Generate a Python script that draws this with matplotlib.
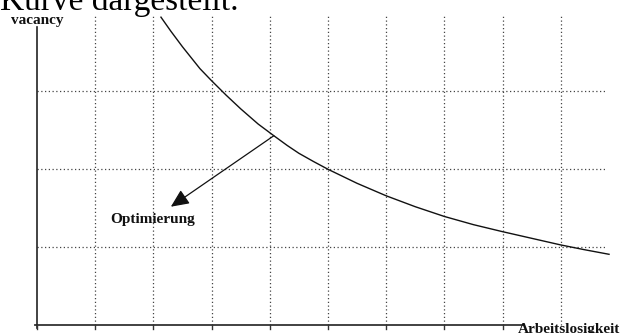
import matplotlib.pyplot as plt

# Curve values (grid units)
curve_x = [2.13, 2.3, 2.5, 2.65, 2.8, 3.0, 3.25, 3.5, 3.8, 4.07, 4.3, 4.5,
           4.75, 5.0, 5.5, 6.0, 6.5, 7.0, 7.5, 8.0, 8.5, 9.0, 9.4, 9.83]
curve_y = [3.95, 3.77, 3.57, 3.43, 3.29, 3.135, 2.95, 2.775, 2.58, 2.43,
           2.305, 2.205, 2.10, 2.0, 1.82, 1.66, 1.52, 1.395, 1.29, 1.20,
           1.115, 1.03, 0.97, 0.91]

# grid positions
grid_x = [1, 2, 3, 4, 5, 6, 7, 8, 9]
grid_y = [1, 2, 3]
tick_x = [0, 1, 2, 3, 4, 5, 6, 7, 8]

# arrow "Optimierung"
arrow_start = (4.07, 2.43)
arrow_end = (2.30, 1.52)

serif = ['Liberation Serif', 'DejaVu Serif']

fig = plt.figure(figsize=(6.23, 3.33), dpi=100)
ax = fig.add_axes([0, 0, 1, 1])
ax.set_xlim(-0.636, 10.07)
ax.set_ylim(-0.099, 4.17)
ax.axis('off')

# dotted grid
for gx in grid_x:
    ax.plot([gx, gx], [0, 3.96], color='#444444', lw=0.9, ls=(0, (1, 2)))
for gy in grid_y:
    ax.plot([0, 9.8], [gy, gy], color='#444444', lw=0.9, ls=(0, (1, 2)))

# axes
ax.plot([-0.03, 8.35], [0, 0], color='#333333', lw=1.3)
ax.plot([0, 0], [-0.04, 3.82], color='#222222', lw=1.2)
for tx in tick_x:
    ax.plot([tx, tx], [0, -0.045], color='#333333', lw=1)

# curve
ax.plot(curve_x, curve_y, color='#111111', lw=1.0)

# arrow
ax.annotate('', xy=arrow_end, xytext=arrow_start,
            arrowprops=dict(arrowstyle='-|>,head_length=0.55,head_width=0.25',
                            color='#111111', lw=0.9,
                            mutation_scale=20, shrinkA=0, shrinkB=0))

ax.text(1.99, 1.35, 'Optimierung', family=serif, fontsize=11,
        weight='bold', ha='center', va='center', color='#111111')
ax.text(-0.44, 3.91, 'vacancy', family=serif, fontsize=11,
        weight='bold', ha='left', va='center', color='#111111')
ax.text(8.27, -0.05, 'Arbeitslosigkeit', family=serif, fontsize=11,
        weight='bold', ha='left', va='center', color='#111111')

fig.text(0.0, 1 - 10 / 333, 'Kurve dargestellt.', family=serif,
         fontsize=24, ha='left', va='baseline', color='black')

fig.savefig('out.png', dpi=100)
